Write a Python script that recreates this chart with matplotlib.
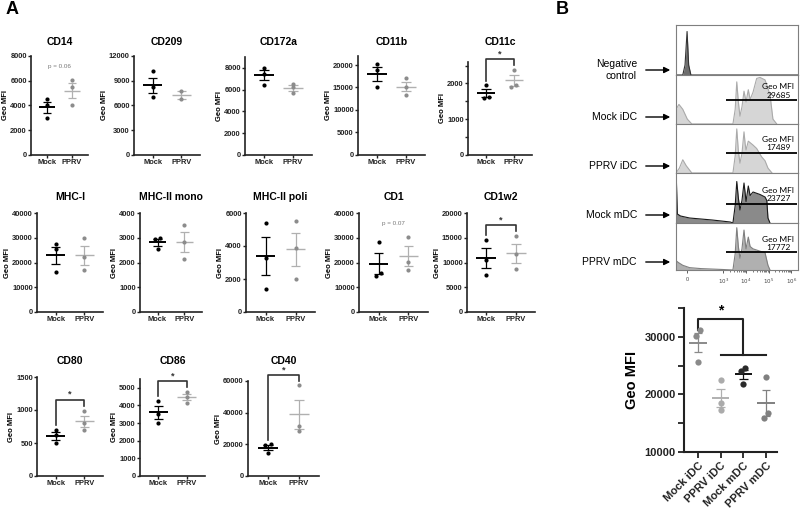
import numpy as np
import matplotlib.pyplot as plt

plt.rcParams['font.family'] = ['Liberation Sans', 'DejaVu Sans']

W, H = 800, 513

# ---------------- panel A data ----------------
markers = ["CD14", "CD209", "CD172a", "CD11b", "CD11c",
           "MHC-I", "MHC-II mono", "MHC-II poli", "CD1", "CD1w2",
           "CD80", "CD86", "CD40"]
mock = [[4530, 4000, 3010], [10140, 8200, 7030], [8000, 7480, 6440], [20150, 18800, 15100], [1950, 1620, 1600],
        [27500, 25300, 16000], [2970, 2930, 2530], [5400, 3290, 1410], [28100, 15700, 14700], [14500, 10500, 7500],
        [697, 620, 493], [4280, 3520, 3020], [20000, 19600, 14300]]
pprv = [[6080, 5490, 4030], [7750, 6750], [6560, 6200, 5710], [17100, 15080, 13430], [2390, 1950, 1910],
        [29700, 22100, 16900], [3530, 2810, 2130], [5520, 3880, 2000], [30400, 20400, 16800], [15300, 11700, 8700],
        [987, 798, 697], [4770, 4490, 4150], [57300, 31600, 28400]]
yticks = [[0, 2000, 4000, 6000, 8000], [0, 3000, 6000, 9000, 12000], [0, 2000, 4000, 6000, 8000],
          [0, 5000, 10000, 15000, 20000], [0, 1000, 2000],
          [0, 10000, 20000, 30000, 40000], [0, 1000, 2000, 3000, 4000], [0, 2000, 4000, 6000],
          [0, 10000, 20000, 30000, 40000], [0, 5000, 10000, 15000, 20000],
          [0, 500, 1000, 1500], [0, 1000, 2000, 3000, 4000, 5000], [0, 20000, 40000, 60000]]
ytop = [8000, 12000, 9000, 22000, 2600, 40000, 4000, 6000, 40000, 20000, 1500, 5500, 60000]
groups = ["Mock", "PPRV"]
significant = ["CD11c", "CD1w2", "CD80", "CD86", "CD40"]
pvalues = {"CD14": "p = 0.06", "CD1": "p = 0.07"}

# ---------------- panel B data ----------------
hist_names = ["Negative\ncontrol", "Mock iDC", "PPRV iDC", "Mock mDC", "PPRV mDC"]
geo_mfi = [None, 29685, 17489, 23727, 17772]
neg_x = [0.9, 1.2, 1.3, 1.39, 1.46, 1.56, 6.3]
neg_y = [0, 0, 0.2, 0.87, 0.2, 0, 0]
mock_idc_x = [0.9, 1.03, 1.2, 1.4, 1.6, 3.42, 3.52, 3.59, 3.66, 3.73, 3.82, 3.91, 3.96, 4.0, 4.1, 4.18,
              4.31, 4.47, 4.62, 4.84, 5.06, 5.19, 5.36]
mock_idc_y = [0.3, 0.4, 0.3, 0.1, 0, 0, 0.3, 0.86, 0.45, 0.16, 0.35, 0.67, 0.55, 0.45, 0.7, 0.5,
              0.65, 0.93, 0.95, 0.9, 0.6, 0.1, 0]
pprv_idc_x = [0.9, 1.05, 1.2, 1.35, 1.6, 3.42, 3.52, 3.59, 3.66, 3.73, 3.82, 3.91, 3.96, 4.0, 4.1,
              4.31, 4.47, 4.69, 4.84, 4.97, 5.15]
pprv_idc_y = [0, 0.1, 0.27, 0.15, 0, 0, 0.35, 0.9, 0.45, 0.2, 0.4, 0.84, 0.6, 0.47, 0.65,
              0.57, 0.5, 0.33, 0.25, 0.1, 0]
mock_mdc_x = [0.9, 0.92, 0.96, 1.1, 1.5, 2.5, 3.3, 3.42, 3.52, 3.59, 3.66, 3.73, 3.82, 3.91, 3.96, 4.0,
              4.1, 4.18, 4.31, 4.62, 4.84, 4.92, 4.97, 5.06]
mock_mdc_y = [0.8, 0.8, 0.18, 0.14, 0.1, 0.06, 0.02, 0, 0.35, 0.83, 0.5, 0.26, 0.45, 0.8, 0.6, 0.43,
              0.74, 0.55, 0.62, 0.57, 0.52, 0.45, 0.1, 0]
pprv_mdc_x = [0.9, 1.0, 1.2, 1.5, 2.0, 3.0, 3.42, 3.52, 3.59, 3.66, 3.73, 3.82, 3.91, 3.96, 4.0, 4.1,
              4.18, 4.31, 4.62, 4.84, 4.97, 5.06]
pprv_mdc_y = [0.2, 0.16, 0.1, 0.05, 0.03, 0.01, 0, 0.35, 0.9, 0.5, 0.25, 0.45, 0.85, 0.6, 0.45, 0.7,
              0.5, 0.45, 0.4, 0.37, 0.1, 0]
hist_ticks = [1.39, 3, 4, 5, 6]
hist_ticklabels = ["0", "$10^3$", "$10^4$", "$10^5$", "$10^6$"]

dc_groups = ["Mock iDC", "PPRV iDC", "Mock mDC", "PPRV mDC"]
dc_vals = [[31100, 30200, 25700], [22500, 18500, 17300], [24600, 24000, 21800], [23000, 16700, 15900]]


def px_axes(fig, x0, x1, y0, y1):
    return fig.add_axes([x0 / W, 1 - y1 / H, (x1 - x0) / W, (y1 - y0) / H])


def spread(vals, span):
    xs = np.zeros(len(vals))
    order = np.argsort(vals)
    for a, b in zip(order[:-1], order[1:]):
        if abs(vals[b] - vals[a]) < 0.04 * span:
            xs[a] -= 0.09
            xs[b] += 0.09
    return xs


def mean_sem(ax, x, v, color, lw, half=0.33):
    v = np.asarray(v, float)
    m = v.mean()
    s = v.std(ddof=1) / np.sqrt(len(v))
    ax.hlines(m, x - half, x + half, color=color, lw=lw, zorder=2)
    ax.vlines(x, m - s, m + s, color=color, lw=0.9, zorder=2)
    ax.hlines([m - s, m + s], x - half / 2, x + half / 2, color=color, lw=0.9, zorder=2)


fig = plt.figure(figsize=(W / 100, H / 100), dpi=100)

# panel rectangles in pixels (x0, x1, top, bottom)
rects = [(31, 88, 56, 155), (134, 200, 56, 155), (245, 312, 57, 155), (358, 425, 56, 155), (468, 532, 62, 155),
         (37, 103, 213, 312), (140, 202, 213, 312), (246, 315, 213, 312), (359, 428, 213, 312), (467, 535, 213, 312),
         (37, 103, 377, 476), (140, 205, 379, 476), (248, 319, 381, 476)]
title_y = [42] * 5 + [197] * 5 + [361] * 3

for i, name in enumerate(markers):
    x0, x1, y0, y1 = rects[i]
    ax = px_axes(fig, x0, x1, y0, y1)
    top = ytop[i]
    for g, (vals, pc, lc, lw) in enumerate([(mock[i], 'black', 'black', 1.4),
                                            (pprv[i], '#8c8c8c', '#b0b0b0', 1.0)]):
        v = np.array(vals, float)
        ax.plot(g + 1 + spread(v, top), v, 'o', color=pc, ms=3, mec='none', zorder=3, clip_on=False)
        mean_sem(ax, g + 1, v, lc, lw)
    if name in significant:
        l = max(mock[i]) + 0.05 * top
        r = max(pprv[i]) + 0.05 * top
        t = max(l, r) + 0.06 * top
        ax.plot([1, 1, 2, 2], [l, t, t, r], color='#333333', lw=1.2, clip_on=False)
        ax.text(1.5, t + 0.055 * top, '*', ha='center', va='center', fontsize=6.5, fontweight='bold',
                color='#333333')
    if name in pvalues:
        ax.text(1.5, 0.89 * top, pvalues[name], ha='center', va='center', fontsize=4.5, color='#777777')
    ax.set_xlim(0.35, 2.65)
    ax.set_ylim(0, top)
    ax.set_yticks(yticks[i])
    ax.set_yticklabels([str(t) for t in yticks[i]])
    if name == "CD11c":
        ax.set_yticks([500, 1500, 2500], minor=True)
    ax.set_xticks([1, 2])
    ax.set_xticklabels(groups)
    for s in ['top', 'right']:
        ax.spines[s].set_visible(False)
    for s in ['left', 'bottom']:
        ax.spines[s].set_linewidth(1.2)
        ax.spines[s].set_color('#222222')
    ax.tick_params(direction='out', length=2, width=1, pad=1, labelsize=5.4, colors='#222222')
    ax.tick_params(which='minor', direction='out', length=2, width=1, colors='#222222')
    for lab in ax.get_xticklabels() + ax.get_yticklabels():
        lab.set_fontweight('bold')
    ax.set_ylabel("Geo MFI", fontsize=5.5, fontweight='bold', labelpad=1)
    fig.text((x0 + x1) / 2 / W, 1 - title_y[i] / H, name, ha='center', va='center',
             fontsize=7.5, fontweight='bold')

fig.text(12 / W, 1 - 10 / H, "A", ha='center', va='center', fontsize=13, fontweight='bold')
fig.text(562 / W, 1 - 9 / H, "B", ha='center', va='center', fontsize=13, fontweight='bold')

# ---------------- panel B histograms ----------------
hist_x = [neg_x, mock_idc_x, pprv_idc_x, mock_mdc_x, pprv_mdc_x]
hist_y = [neg_y, mock_idc_y, pprv_idc_y, mock_mdc_y, pprv_mdc_y]
fills = ['#6e6e6e', '#d6d6d6', '#d6d6d6', '#8a8a8a', '#b0b0b0']
edges = ['#333333', '#aaaaaa', '#aaaaaa', '#1a1a1a', '#808080']
row_edges = [25, 75, 124, 173, 223, 270]
gate_y = [None, 0.49, 0.41, 0.38, 0.38]
label_y = [70, 117, 166, 215, 262]

for i in range(5):
    ax = px_axes(fig, 676, 798, row_edges[i], row_edges[i + 1])
    ax.fill_between(hist_x[i], hist_y[i], color=fills[i], lw=0)
    ax.plot(hist_x[i], hist_y[i], color=edges[i], lw=0.8)
    ax.set_xlim(0.9, 6.3)
    ax.set_ylim(0, 1)
    for s in ax.spines.values():
        s.set_color('#7f7f7f')
        s.set_linewidth(0.8)
    ax.set_yticks([])
    if geo_mfi[i] is not None:
        ax.hlines(gate_y[i], 3.1, 6.25, color='black', lw=1.3)
        ax.text(6.14, gate_y[i] + 0.03, "Geo MFI\n%d" % geo_mfi[i], ha='right', va='bottom',
                multialignment='center', fontsize=6, family=['Lato', 'DejaVu Sans'], linespacing=1.2)
    if i < 4:
        ax.set_xticks([])
    else:
        ax.set_xticks(hist_ticks)
        ax.set_xticklabels(hist_ticklabels)
        minor = [d + np.log10(k) for d in (3, 4, 5) for k in range(2, 10)]
        ax.set_xticks(minor, minor=True)
        ax.tick_params(direction='out', length=2, width=0.6, labelsize=4, pad=3, colors='#444444')
        ax.tick_params(which='minor', direction='out', length=1.2, width=0.5, colors='#444444')
    fig.text(637 / W, 1 - label_y[i] / H, hist_names[i], ha='right', va='center', fontsize=7.5,
             multialignment='right', linespacing=1.2)
    ax.annotate('', xy=(673 / W, 1 - label_y[i] / H), xytext=(643 / W, 1 - label_y[i] / H),
                xycoords='figure fraction', textcoords='figure fraction',
                arrowprops=dict(arrowstyle='-|>', color='black', lw=1.0, mutation_scale=9))

# ---------------- panel B dot plot ----------------
ax = px_axes(fig, 684, 777, 308, 452)
pt_colors = ['#8a8a8a', '#ababab', '#2a2a2a', '#808080']
ln_colors = ['#8a8a8a', '#b0b0b0', '#111111', '#808080']
for j, vals in enumerate(dc_vals):
    v = np.array(vals, float)
    ax.plot(j + 1 + spread(v, 25000), v, 'o', color=pt_colors[j], ms=4.5, mec='none', zorder=3)
    mean_sem(ax, j + 1, v, ln_colors[j], 1.4, half=0.38)
t_hi = max(dc_vals[0]) + 2000
t_lo = max(max(v) for v in dc_vals[1:]) + 2300
ax.plot([1, 1, 3, 3], [max(dc_vals[0]) + 100, t_hi, t_hi, t_lo], color='#222222', lw=1.5, clip_on=False)
ax.plot([2, 4], [t_lo, t_lo], color='#222222', lw=1.5, clip_on=False)
ax.text(2, t_hi + 200, '*', ha='center', va='bottom', fontsize=10, fontweight='bold')
ax.set_xlim(0.38, 4.48)
ax.set_ylim(10000, 35000)
ax.set_yticks([10000, 20000, 30000])
ax.set_yticks([15000, 25000, 35000], minor=True)
ax.set_xticks([1, 2, 3, 4])
ax.set_xticklabels(dc_groups, rotation=45, ha='right', rotation_mode='anchor')
for s in ['top', 'right']:
    ax.spines[s].set_visible(False)
for s in ['left', 'bottom']:
    ax.spines[s].set_linewidth(1.5)
    ax.spines[s].set_color('#222222')
ax.tick_params(direction='out', length=4, width=1.3, pad=2, labelsize=8, colors='#222222')
ax.tick_params(which='minor', direction='out', length=4, width=1.3, colors='#222222')
for lab in ax.get_xticklabels() + ax.get_yticklabels():
    lab.set_fontweight('bold')
ax.set_ylabel("Geo MFI", fontsize=10.5, fontweight='bold', labelpad=4)

fig.savefig("out.png", dpi=100)
